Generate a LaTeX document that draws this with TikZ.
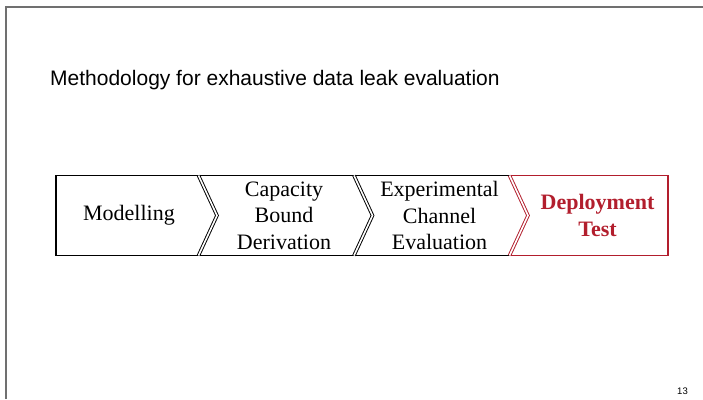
\documentclass[tikz,border=0pt]{standalone}
\usepackage{fontspec}
\setmainfont{Liberation Serif}
\newfontfamily\headfont{Liberation Sans}
\definecolor{framegray}{RGB}{112,112,112}
\definecolor{accent}{RGB}{178,30,45}
\tikzset{
  edge/.style={line width=1.1pt},
  chevron/.style={double=white, double distance=1.6pt, line width=0.95pt, line join=miter},
  stagetext/.style={align=center, font=\fontsize{22}{26.5}\selectfont, inner sep=0pt},
  slidetitle/.style={anchor=base west, inner sep=0pt, font=\headfont\fontsize{21}{25}\selectfont},
  pagenum/.style={anchor=base east, inner sep=0pt, font=\headfont\fontsize{9.5}{11}\selectfont}
}
\begin{document}
\begin{tikzpicture}[x=1pt,y=-1pt]
\useasboundingbox (0,0) rectangle (703,399);

% slide frame
\draw[framegray, line width=2pt] (5.5,399) -- (5.5,7) -- (703,7);

% title and page number
\node[slidetitle] (title) at (50,85) {Methodology for exhaustive data leak evaluation};
\node[pagenum] (page) at (688,394) {13};

% process band geometry
\coordinate (tl) at (56,175.5);
\coordinate (bl) at (56,255.5);
\coordinate (tr) at (668,175.5);
\coordinate (br) at (668,255.5);
\coordinate (c1t) at (198.5,175.5); \coordinate (c1m) at (217,215.5); \coordinate (c1b) at (198.5,255.5);
\coordinate (c2t) at (354,175.5);   \coordinate (c2m) at (372.5,215.5); \coordinate (c2b) at (354,255.5);
\coordinate (c3t) at (509.5,175.5); \coordinate (c3m) at (528,215.5); \coordinate (c3b) at (509.5,255.5);

% outline of the first three stages
\draw[edge] (c3t) -- (tl) -- (bl) -- (c3b);
% outline of the highlighted stage
\draw[edge, accent] (c3t) -- (tr) -- (br) -- (c3b);

% chevron separators
\draw[chevron] (c1t) -- (c1m) -- (c1b);
\draw[chevron] (c2t) -- (c2m) -- (c2b);
\draw[chevron, draw=accent] (c3t) -- (c3m) -- (c3b);

% stage labels
\node[stagetext] (s1) at (129,215.5) {Modelling};
\node[stagetext] (s2) at (284,215.5) {Capacity\\Bound\\Derivation};
\node[stagetext] (s3) at (439.5,215.5) {Experimental\\Channel\\Evaluation};
\node[stagetext, text=accent, font=\bfseries\fontsize{22}{26.5}\selectfont] (s4) at (597.5,215.5) {Deployment\\Test};
\end{tikzpicture}
\end{document}
